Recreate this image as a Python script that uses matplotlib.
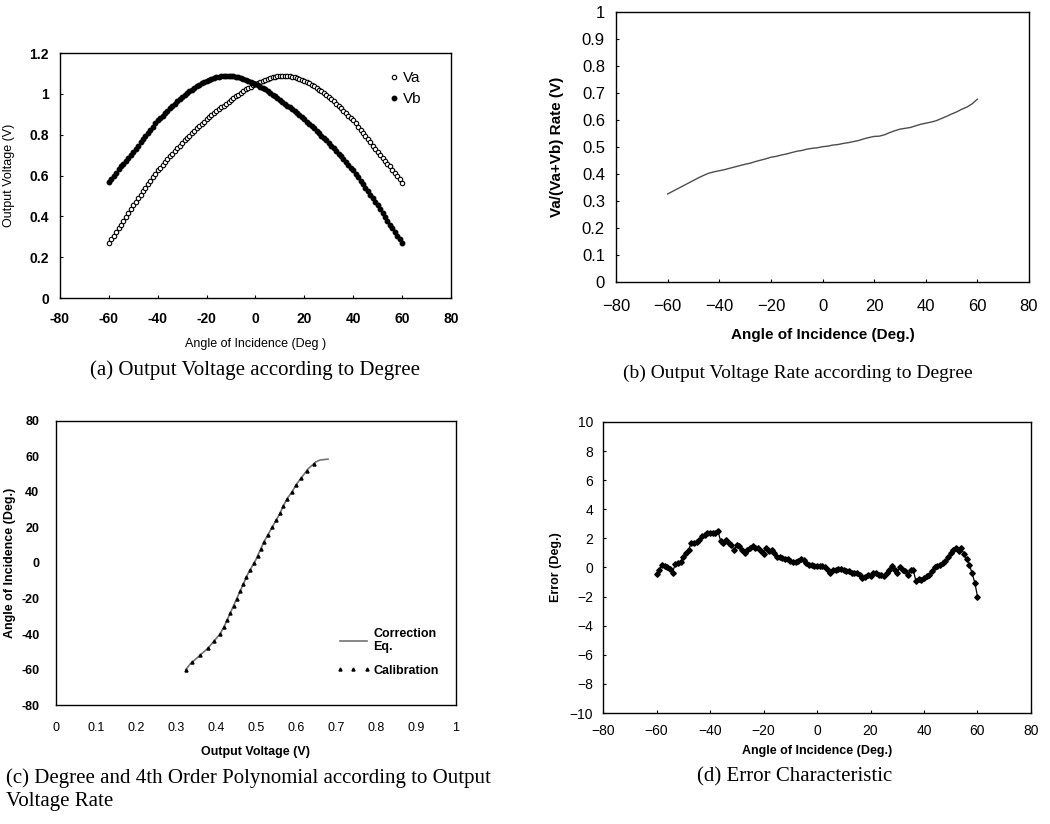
import numpy as np
import matplotlib
matplotlib.use("Agg")
import matplotlib.pyplot as plt

# %% Data
# (a) output voltage vs. angle, 1 deg steps from -60 to 60
angle_a = list(range(-60, 61))
va = [0.270, 0.288, 0.306, 0.324, 0.342, 0.360, 0.379, 0.398, 0.417, 0.436,
      0.455, 0.472, 0.489, 0.506, 0.523, 0.540, 0.557, 0.574, 0.591, 0.608,
      0.625, 0.639, 0.653, 0.667, 0.681, 0.695, 0.708, 0.721, 0.734, 0.747,
      0.760, 0.772, 0.784, 0.796, 0.808, 0.820, 0.831, 0.842, 0.853, 0.864,
      0.875, 0.885, 0.895, 0.905, 0.915, 0.925, 0.934, 0.943, 0.952, 0.961,
      0.970, 0.979, 0.988, 0.997, 1.006, 1.015, 1.022, 1.029, 1.036, 1.043,
      1.050,
      1.055, 1.060, 1.065, 1.070, 1.075, 1.078, 1.081, 1.084, 1.086, 1.088,
      1.089, 1.090, 1.089, 1.087, 1.085, 1.082, 1.078, 1.074, 1.070, 1.065,
      1.058, 1.051, 1.044, 1.037, 1.030, 1.021, 1.012, 1.003, 0.994, 0.985,
      0.974, 0.963, 0.952, 0.941, 0.930, 0.918, 0.906, 0.894, 0.882, 0.870,
      0.855, 0.840, 0.825, 0.810, 0.795, 0.779, 0.763, 0.747, 0.731, 0.715,
      0.701, 0.687, 0.673, 0.659, 0.645, 0.629, 0.613, 0.597, 0.581, 0.565]
vb = [0.566, 0.582, 0.598, 0.614, 0.630, 0.645, 0.659, 0.673, 0.687, 0.701,
      0.715, 0.731, 0.747, 0.763, 0.779, 0.795, 0.810, 0.825, 0.840, 0.855,
      0.870, 0.882, 0.894, 0.906, 0.918, 0.930, 0.941, 0.952, 0.963, 0.974,
      0.985, 0.994, 1.003, 1.012, 1.021, 1.030, 1.037, 1.044, 1.051, 1.058,
      1.065, 1.070, 1.074, 1.078, 1.082, 1.085, 1.087, 1.089, 1.090, 1.089,
      1.088, 1.086, 1.084, 1.081, 1.078, 1.075, 1.070, 1.065, 1.060, 1.055,
      1.050,
      1.043, 1.036, 1.029, 1.022, 1.015, 1.006, 0.997, 0.988, 0.979, 0.970,
      0.961, 0.952, 0.943, 0.934, 0.925, 0.915, 0.905, 0.895, 0.885, 0.875,
      0.864, 0.853, 0.842, 0.831, 0.820, 0.808, 0.796, 0.784, 0.772, 0.760,
      0.747, 0.734, 0.721, 0.708, 0.695, 0.681, 0.667, 0.653, 0.639, 0.625,
      0.608, 0.591, 0.574, 0.557, 0.540, 0.523, 0.506, 0.489, 0.472, 0.455,
      0.436, 0.417, 0.398, 0.379, 0.360, 0.342, 0.324, 0.306, 0.288, 0.271]

# (b) rate Va/(Va+Vb), 2 deg steps
angle_b = list(range(-60, 61, 2))
rate_b = [0.326, 0.336, 0.346, 0.356, 0.366, 0.376, 0.386, 0.395, 0.403, 0.408,
          0.412, 0.416, 0.421, 0.426, 0.431, 0.436, 0.440, 0.446, 0.451, 0.456,
          0.462, 0.465, 0.470, 0.474, 0.479, 0.484, 0.487, 0.492, 0.495, 0.497,
          0.501, 0.503, 0.507, 0.509, 0.513, 0.516, 0.520, 0.524, 0.530, 0.535,
          0.539, 0.540, 0.545, 0.553, 0.560, 0.566, 0.569, 0.572, 0.578, 0.584,
          0.588, 0.592, 0.597, 0.605, 0.613, 0.622, 0.630, 0.640, 0.648, 0.660,
          0.677]

# (c) correction equation (4th order polynomial) curve
corr_rate = [0.325, 0.335, 0.350, 0.365, 0.380, 0.395, 0.410, 0.420, 0.430, 0.440,
             0.450, 0.460, 0.470, 0.480, 0.490, 0.500, 0.510, 0.520, 0.530, 0.540,
             0.550, 0.560, 0.570, 0.580, 0.590, 0.600, 0.610, 0.620, 0.630, 0.640,
             0.650, 0.660, 0.680]
corr_angle = [-60, -57, -54, -51, -48, -44, -40, -36, -31, -26,
              -21, -16, -11, -6, -2, 2, 7, 12, 16, 20,
              24, 28, 33, 37, 40, 44, 47, 50, 53, 55,
              57, 58, 58.5]
# (c) calibration points
cal_rate = [0.325, 0.340, 0.360, 0.380, 0.395, 0.410, 0.420, 0.428, 0.436, 0.444,
            0.452, 0.460, 0.468, 0.476, 0.485, 0.495, 0.504, 0.512, 0.520, 0.530,
            0.540, 0.550, 0.560, 0.568, 0.578, 0.590, 0.600, 0.613, 0.627, 0.645]
cal_angle = [-60, -56, -52, -48, -44, -40, -36, -32, -28, -24,
             -20, -16, -12, -8, -4, 0, 4, 8, 12, 16,
             20, 24, 28, 32, 36, 40, 44, 48, 52, 56]

# (d) error, 1 deg steps
angle_d = list(range(-60, 61))
error_d = [-0.45, -0.2, 0.2, 0.1, 0.0, -0.1, -0.35, 0.25, 0.3, 0.35,
           0.75, 1.0, 1.2, 1.7, 1.65, 1.75, 1.9, 2.15, 2.25, 2.35,
           2.4, 2.4, 2.35, 2.5, 1.8, 1.7, 1.9, 1.65, 1.55, 1.2,
           1.55, 1.45, 1.2, 1.0, 1.2, 1.35, 1.45, 1.35, 1.35, 1.1,
           0.95, 1.35, 1.1, 1.2, 1.0, 0.75, 0.75, 0.65, 0.6, 0.55,
           0.45, 0.35, 0.35, 0.45, 0.6, 0.5, 0.3, 0.2, 0.15, 0.12,
           0.12,
           0.1, 0.12, 0.0, -0.2, -0.35, -0.2, -0.2, -0.1, -0.1, -0.2,
           -0.25, -0.25, -0.35, -0.35, -0.4, -0.55, -0.7, -0.65, -0.5, -0.6,
           -0.35, -0.4, -0.55, -0.5, -0.6, -0.35, -0.15, 0.1, -0.2, -0.35,
           0.0, -0.15, -0.25, -0.5, -0.15, -0.2, -0.95, -0.8, -0.85, -0.7,
           -0.6, -0.5, -0.25, 0.0, 0.1, 0.2, 0.3, 0.45, 0.7, 1.0,
           1.2, 1.35, 1.1, 1.35, 0.9, 0.55, 0.15, -0.4, -1.05, -2.0]

angle_ticks = [-80, -60, -40, -20, 0, 20, 40, 60, 80]
angle_labels_minus = ['\u221280', '\u221260', '\u221240', '\u221220', '0', '20', '40', '60', '80']

# %% Figure
plt.rcParams['font.family'] = ['Liberation Sans', 'DejaVu Sans']
plt.rcParams['axes.unicode_minus'] = False
fig = plt.figure(figsize=(10.5, 8.24), dpi=100)
serif = 'Liberation Serif'


def frame(ax):
    for s in ax.spines.values():
        s.set_linewidth(1.0)
    ax.tick_params(direction='in', length=2, width=0.8)


# (a)
ax_a = fig.add_axes([0.0571, 0.6383, 0.3724, 0.2973])
ax_a.plot(angle_a, va, 'o', ms=3.2, mfc='white', mec='black', mew=0.8, label='Va')
ax_a.plot(angle_a, vb, 'o', ms=3.2, color='black', label='Vb')
ax_a.set_xlim(-80, 80)
ax_a.set_ylim(0, 1.2)
ax_a.set_xticks(angle_ticks)
ax_a.set_yticks([0, 0.2, 0.4, 0.6, 0.8, 1.0, 1.2])
ax_a.set_yticklabels(['0', '0.2', '0.4', '0.6', '0.8', '1', '1.2'])
frame(ax_a)
ax_a.tick_params(labelsize=10)
ax_a.tick_params(axis='x', pad=10)
ax_a.tick_params(axis='y', pad=8)
for t in ax_a.get_xticklabels() + ax_a.get_yticklabels():
    t.set_fontweight('bold')
ax_a.set_xlabel('Angle of Incidence (Deg )', fontsize=9)
ax_a.set_ylabel('Output Voltage (V)', fontsize=9)
ax_a.xaxis.set_label_coords(0.5, -0.165)
ax_a.yaxis.set_label_coords(-0.115, 0.5)
ax_a.legend(loc='upper right', bbox_to_anchor=(0.94, 0.95), frameon=False, fontsize=11,
            handletextpad=0.1, handlelength=1.0, borderaxespad=0.0, labelspacing=0.45)
fig.text(0.243, 0.551, '(a) Output Voltage according to Degree', family=serif,
         fontsize=15, ha='center', va='center')

# (b)
ax_b = fig.add_axes([0.5867, 0.6578, 0.3933, 0.3277])
ax_b.plot(angle_b, rate_b, '-', color='0.3', lw=1.0)
ax_b.set_xlim(-80, 80)
ax_b.set_ylim(0, 1)
ax_b.set_xticks(angle_ticks)
ax_b.set_xticklabels(angle_labels_minus)
ax_b.set_yticks(np.arange(0, 1.01, 0.1))
ax_b.set_yticklabels(['0', '0.1', '0.2', '0.3', '0.4', '0.5', '0.6', '0.7', '0.8', '0.9', '1'])
frame(ax_b)
ax_b.tick_params(labelsize=12)
ax_b.tick_params(axis='x', pad=12)
ax_b.tick_params(axis='y', pad=8)
ax_b.set_xlabel('Angle of Incidence (Deg.)', fontsize=11, fontweight='bold')
ax_b.set_ylabel('Va/(Va+Vb) Rate (V)', fontsize=11, fontweight='bold')
ax_b.xaxis.set_label_coords(0.5, -0.17)
ax_b.yaxis.set_label_coords(-0.125, 0.5)
fig.text(0.76, 0.547, '(b) Output Voltage Rate according to Degree', family=serif,
         fontsize=14, ha='center', va='center')

# (c)
ax_c = fig.add_axes([0.0533, 0.1444, 0.381, 0.3447])
ax_c.plot(corr_rate, corr_angle, '-', color='0.45', lw=1.2, label='Correction\nEq.')
ax_c.plot(cal_rate, cal_angle, '^', ms=2.2, color='black', label='Calibration')
ax_c.set_xlim(0, 1)
ax_c.set_ylim(-80, 80)
ax_c.set_xticks(np.arange(0, 1.01, 0.1))
ax_c.set_xticklabels(['0', '0.1', '0.2', '0.3', '0.4', '0.5', '0.6', '0.7', '0.8', '0.9', '1'])
ax_c.set_yticks([-80, -60, -40, -20, 0, 20, 40, 60, 80])
frame(ax_c)
ax_c.tick_params(labelsize=9, length=0)
ax_c.tick_params(axis='x', pad=12)
ax_c.tick_params(axis='y', pad=12)
for t in ax_c.get_yticklabels():
    t.set_fontweight('bold')
ax_c.set_xlabel('Output Voltage (V)', fontsize=9, fontweight='bold')
ax_c.set_ylabel('Angle of Incidence (Deg.)', fontsize=9, fontweight='bold')
ax_c.xaxis.set_label_coords(0.5, -0.145)
ax_c.yaxis.set_label_coords(-0.1, 0.5)
leg_c = ax_c.legend(loc='lower right', bbox_to_anchor=(0.985, 0.06), frameon=False,
                    fontsize=9, numpoints=3, handlelength=2.8, handletextpad=0.2,
                    labelspacing=0.9)
for t in leg_c.get_texts():
    t.set_fontweight('bold')
fig.text(0.006, 0.056, '(c) Degree and 4th Order Polynomial according to Output',
         family=serif, fontsize=15, ha='left', va='center')
fig.text(0.006, 0.027, 'Voltage Rate', family=serif, fontsize=15, ha='left', va='center')

# (d)
ax_d = fig.add_axes([0.5743, 0.1347, 0.4076, 0.3532])
ax_d.plot(angle_d, error_d, 'D-', ms=2.8, lw=0.9, color='black')
ax_d.set_xlim(-80, 80)
ax_d.set_ylim(-10, 10)
ax_d.set_xticks(angle_ticks)
ax_d.set_xticklabels(angle_labels_minus)
ax_d.set_yticks(list(range(-10, 11, 2)))
ax_d.set_yticklabels(['\u221210', '\u22128', '\u22126', '\u22124', '\u22122', '0', '2', '4', '6', '8', '10'])
frame(ax_d)
ax_d.tick_params(labelsize=10)
ax_d.tick_params(axis='x', pad=8)
ax_d.tick_params(axis='y', pad=7)
ax_d.set_xlabel('Angle of Incidence (Deg.)', fontsize=9, fontweight='bold')
ax_d.set_ylabel('Error (Deg.)', fontsize=9, fontweight='bold')
ax_d.xaxis.set_label_coords(0.5, -0.11)
ax_d.yaxis.set_label_coords(-0.095, 0.5)
fig.text(0.757, 0.057, '(d) Error Characteristic', family=serif,
         fontsize=15, ha='center', va='center')

fig.savefig('out.png', dpi=100)
